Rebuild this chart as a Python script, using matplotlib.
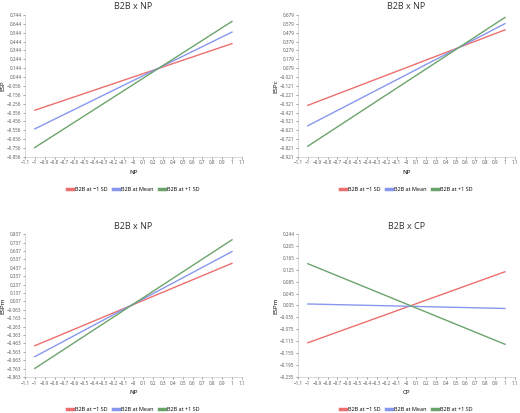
import matplotlib
matplotlib.use("Agg")
import matplotlib.pyplot as plt
import numpy as np

plt.rcParams['font.family'] = ['Open Sans', 'DejaVu Sans']

x_pts = [-1, 1]
series_names = ["B2B at \u22121 SD", "B2B at Mean", "B2B at +1 SD"]
colors = ["#ec6f6f", "#8797ee", "#6ba46b"]

titles = ["B2B x NP", "B2B x NP", "B2B x NP", "B2B x CP"]
xlabels = ["NP", "NP", "NP", "CP"]
ylabels = ["ESP", "ESPc", "ESPm", "ESPm"]

p1 = [[-0.33, 0.42], [-0.54, 0.55], [-0.75, 0.67]]
p2 = [[-0.34, 0.51], [-0.57, 0.58], [-0.80, 0.65]]
p3 = [[-0.49, 0.49], [-0.62, 0.63], [-0.76, 0.77]]
p4 = [[-0.12, 0.118], [0.01, -0.005], [0.145, -0.125]]
panels = [p1, p2, p3, p4]

yt1 = [-0.856, -0.756, -0.656, -0.556, -0.456, -0.356, -0.256, -0.156, -0.056, 0.044, 0.144, 0.244, 0.344, 0.444, 0.544, 0.644, 0.744]
yt2 = [-0.921, -0.821, -0.721, -0.621, -0.521, -0.421, -0.321, -0.221, -0.121, -0.021, 0.079, 0.179, 0.279, 0.379, 0.479, 0.579, 0.679]
yt3 = [-0.863, -0.763, -0.663, -0.563, -0.463, -0.363, -0.263, -0.163, -0.063, 0.037, 0.137, 0.237, 0.337, 0.437, 0.537, 0.637, 0.737, 0.837]
yt4 = [-0.235, -0.195, -0.155, -0.115, -0.075, -0.035, 0.005, 0.045, 0.085, 0.125, 0.165, 0.205, 0.244]
yticks = [yt1, yt2, yt3, yt4]

xt = [round(-1.1 + 0.1 * i, 1) for i in range(23)]
def fmt(v):
    if abs(v) < 1e-9:
        return "\u22120"
    return ("%g" % v).replace("-", "\u2212")
xtl = [fmt(v) for v in xt]

fig = plt.figure(figsize=(5.2, 4.13), dpi=100)
positions = [[0.048, 0.62, 0.417, 0.344], [0.573, 0.62, 0.417, 0.344],
             [0.048, 0.087, 0.417, 0.346], [0.573, 0.087, 0.417, 0.346]]
for pos, data, t, xlab, ylab, yt in zip(positions, panels, titles, xlabels, ylabels, yticks):
    ax = fig.add_axes(pos)
    for s, c, n in zip(data, colors, series_names):
        ax.plot(x_pts, s, color=c, lw=1.0, label=n)
    ax.set_title(t, fontsize=6.5, color="#333333", pad=4)
    ax.set_xlabel(xlab, fontsize=4.5, labelpad=3)
    ax.set_ylabel(ylab, fontsize=4.5, labelpad=1)
    ax.set_xlim(-1.1, 1.1)
    ax.set_xticks(xt)
    ax.set_xticklabels(xtl)
    ax.set_yticks(yt)
    ax.set_yticklabels([("%g" % v).replace("-", "\u2212") for v in yt])
    ax.set_ylim(yt[0], yt[-1])
    ax.tick_params(labelsize=3.3, length=1.5, width=0.4, colors="#555555", pad=1)
    for sp in ["top", "right"]:
        ax.spines[sp].set_visible(False)
    for sp in ["left", "bottom"]:
        ax.spines[sp].set_linewidth(0.4)
        ax.spines[sp].set_color("#bbbbbb")
    leg = ax.legend(loc="center", bbox_to_anchor=(0.5, -0.23), ncol=3, frameon=False,
                    fontsize=4, handlelength=1.0, handletextpad=0.4, columnspacing=1.0)
    for h in leg.get_lines():
        h.set_linewidth(2.5)

fig.savefig("out.png", dpi=100)
